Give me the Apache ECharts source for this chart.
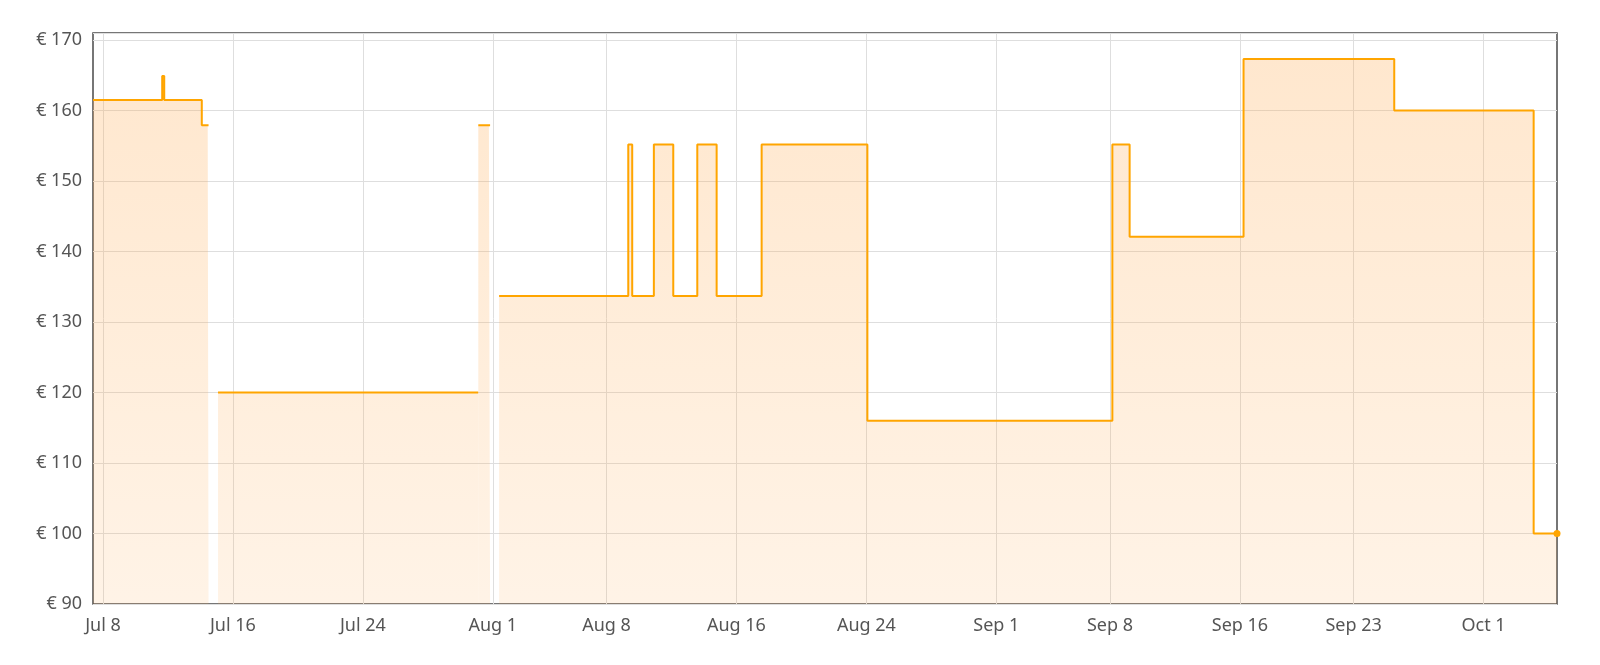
<!DOCTYPE html>
<html>
<head>
<meta charset="utf-8">
<title>Price history</title>
<script src="https://cdn.jsdelivr.net/npm/echarts@6/dist/echarts.min.js"></script>
<style>
html,body{margin:0;padding:0;background:#fff;}
#chart{width:1600px;height:665px;}
</style>
</head>
<body>
<div id="chart"></div>
<script>
'use strict';

// price change moments (UTC), null price = no data (gap)
var changeTimes=[
    '2023-07-07 09:15','2023-07-11 15:30','2023-07-11 18:30','2023-07-14 02:00','2023-07-14 10:45','2023-07-14 12:00',
    '2023-07-15 02:00','2023-07-31 02:25','2023-07-31 02:30','2023-07-31 02:35','2023-07-31 18:15','2023-07-31 20:00',
    '2023-08-01 09:20','2023-08-09 08:10','2023-08-09 14:00','2023-08-10 22:00','2023-08-12 02:40','2023-08-13 14:10',
    '2023-08-14 18:45','2023-08-17 13:15','2023-08-24 01:30','2023-09-08 03:30','2023-09-09 05:00','2023-09-16 05:20',
    '2023-09-25 12:00','2023-10-04 02:00','2023-10-05 12:30'
];
var prices=[
    161.5,164.9,161.5,157.9,157.9,null,
    120.0,120.0,null,157.9,157.9,null,
    133.7,155.2,133.7,155.2,133.7,155.2,
    133.7,155.2,116.0,155.2,142.1,167.3,
    160.0,100.0,100.0
];

// x axis ticks
var tickDates=['2023-07-08','2023-07-16','2023-07-24','2023-08-01','2023-08-08','2023-08-16',
    '2023-08-24','2023-09-01','2023-09-08','2023-09-16','2023-09-23','2023-10-01'];
var tickLabels=['Jul 8','Jul 16','Jul 24','Aug 1','Aug 8','Aug 16','Aug 24','Sep 1','Sep 8','Sep 16','Sep 23','Oct 1'];

var X_START='2023-07-07 09:15';
var X_END='2023-10-05 12:30';
var Y_MIN=90, Y_MAX=171, Y_STEP=10;

var LINE_COLOR='#FFA500';
var TEXT_COLOR='#555';
var FONT='"Noto Sans", "Open Sans", sans-serif';

/**
 * 'YYYY-MM-DD hh:mm' -> utc ms
 */
function toTime(s){
    var p=s.split(/[- :]/);
    return Date.UTC(+p[0],+p[1]-1,+p[2],+(p[3]||0),+(p[4]||0));
}

var tickTimes=tickDates.map(toTime);

var seriesData=changeTimes.map(function(t,i){
    var item={value:[toTime(t),prices[i]]};
    if(i===changeTimes.length-1){
        item.symbol='circle';
        item.symbolSize=7;
    }
    return item;
});

var chart=echarts.init(document.getElementById('chart'),null,{renderer:'canvas'});
chart.setOption({
    animation:false,
    backgroundColor:'#fff',
    grid:{
        left:93,right:43,top:33,bottom:61,
        show:true,borderColor:'#4a4a4a',borderWidth:1.5,backgroundColor:'transparent'
    },
    xAxis:{
        type:'value',
        min:toTime(X_START),
        max:toTime(X_END),
        axisLine:{show:false},
        axisTick:{show:false,customValues:tickTimes},
        splitLine:{show:true,lineStyle:{color:'#dedede',width:1}},
        axisLabel:{
            customValues:tickTimes,
            color:TEXT_COLOR,fontFamily:FONT,fontSize:18,margin:13,
            hideOverlap:false,
            formatter:function(v){
                var i=tickTimes.indexOf(+v);
                return i>=0 ? tickLabels[i] : '';
            }
        }
    },
    yAxis:{
        type:'value',
        min:Y_MIN,max:Y_MAX,interval:Y_STEP,
        axisLine:{show:false},
        axisTick:{show:false},
        splitLine:{show:true,lineStyle:{color:'#dedede',width:1}},
        axisLabel:{
            color:TEXT_COLOR,fontFamily:FONT,fontSize:18,margin:11,
            showMaxLabel:false,
            formatter:function(v){ return v>170 ? '' : '€ '+v; }
        }
    },
    series:[{
        type:'line',
        step:'end',
        data:seriesData,
        symbol:'none',
        showSymbol:true,
        connectNulls:false,
        clip:false,
        itemStyle:{color:LINE_COLOR},
        lineStyle:{color:LINE_COLOR,width:2},
        areaStyle:{
            origin:'start',
            color:new echarts.graphic.LinearGradient(0,0,0,1,[
                {offset:0,color:'rgba(255,170,80,0.40)'},
                {offset:1,color:'rgba(255,170,80,0.20)'}
            ])
        }
    }]
});
</script>
</body>
</html>
